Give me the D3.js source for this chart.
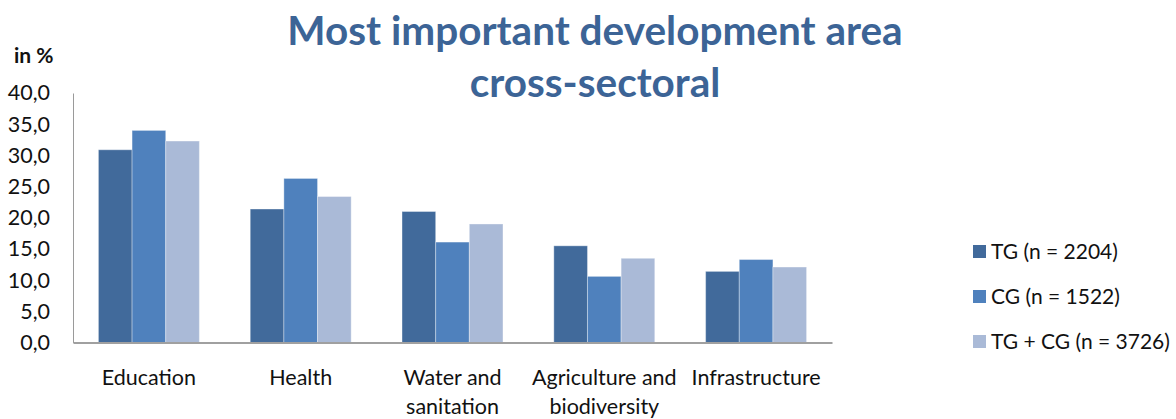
<!DOCTYPE html>
<html>
<head>
<meta charset="utf-8">
<script src="https://cdn.jsdelivr.net/npm/d3@7"></script>
<style>
  html, body { margin: 0; padding: 0; background: #fff; }
  svg { display: block; }
</style>
</head>
<body>
<svg id="chart" width="1176" height="419"></svg>
<script>
const categories = [["Education"], ["Health"], ["Water and", "sanitation"], ["Agriculture and", "biodiversity"], ["Infrastructure"]];
const seriesNames = ["TG (n = 2204)", "CG (n = 1522)", "TG + CG (n = 3726)"];
const tgValues = [30.9, 21.4, 21.0, 15.5, 11.4];
const cgValues = [34.0, 26.3, 16.1, 10.6, 13.3];
const allValues = [32.3, 23.4, 19.0, 13.5, 12.1];
const yTicks = [0, 5, 10, 15, 20, 25, 30, 35, 40];
const titleLines = ["Most important development area", "cross-sectoral"];
const yAxisTitle = "in %";

(function () {
const colors = ["#416a9b", "#4f81bd", "#aabad7"];
const font = "Lato, 'Open Sans', sans-serif";
const series = [tgValues, cgValues, allValues];

const svg = d3.select("#chart");
const pLeft = 73, pRight = 832, pTop = 93, pBottom = 342.5;

const catKeys = categories.map(c => c.join(" "));
const x0 = d3.scaleBand().domain(catKeys).range([pLeft, pRight]).paddingInner(0.335).paddingOuter(0.1675);
const x1 = d3.scaleBand().domain(d3.range(3)).range([0, x0.bandwidth()]);
const y = d3.scaleLinear().domain([0, 40]).range([pBottom, pTop]);

// Title
const title = svg.append("text").attr("text-anchor", "middle")
  .attr("font-family", font).attr("font-weight", "bold").attr("fill", "#3c6496")
  .attr("font-size", 40.5);
titleLines.forEach((t, i) => {
  title.append("tspan").attr("x", 595).attr("y", i === 0 ? 45 : 97).text(t);
});

// y-axis title
svg.append("text").attr("x", 14).attr("y", 63).attr("font-family", font)
  .attr("font-weight", "bold").attr("font-size", 21).attr("fill", "#111").text(yAxisTitle);

// Bars
const groups = svg.append("g").selectAll("g").data(catKeys).join("g")
  .attr("transform", d => `translate(${x0(d)},0)`);
groups.selectAll("rect").data((d, i) => series.map((s, j) => ({ j, v: s[i] }))).join("rect")
  .attr("x", d => x1(d.j))
  .attr("y", d => y(d.v))
  .attr("width", x1.bandwidth())
  .attr("height", d => y(0) - y(d.v))
  .attr("fill", d => colors[d.j])
  .attr("stroke", "rgba(255,255,255,0.35)")
  .attr("stroke-width", 1);

// Y axis
const yAxis = d3.axisLeft(y).tickValues(yTicks).tickSize(0).tickPadding(23)
  .tickFormat(d => d3.format(".1f")(d).replace(".", ","));
const gy = svg.append("g").attr("transform", `translate(${pLeft},0)`).call(yAxis);
gy.select(".domain").attr("stroke", "#9a9a9a").attr("stroke-width", 1);
gy.selectAll("text").attr("font-family", font).attr("font-size", 21.5).attr("fill", "#111");

// X axis
const xAxis = d3.axisBottom(x0).tickSize(0).tickFormat("");
const gx = svg.append("g").attr("transform", `translate(0,${pBottom})`).call(xAxis);
gx.select(".domain").attr("stroke", "#a0a0a0").attr("stroke-width", 2);
gx.selectAll(".tick").each(function(d, i) {
  const t = d3.select(this).append("text").attr("text-anchor", "middle")
    .attr("font-family", font).attr("font-size", 21.5).attr("fill", "#111");
  categories[i].forEach((line, k) => {
    t.append("tspan").attr("x", 0).attr("y", 42 + k * 29).text(line);
  });
});

// Legend
const legend = svg.append("g").selectAll("g").data(seriesNames).join("g")
  .attr("transform", (d, i) => `translate(973, ${251 + i * 45})`);
legend.append("rect").attr("x", 0).attr("y", -6).attr("width", 13).attr("height", 13)
  .attr("fill", (d, i) => colors[i]);
legend.append("text").attr("x", 18).attr("y", 8).attr("font-family", font)
  .attr("font-size", 21).attr("fill", "#111").text(d => d);
})();
</script>
</body>
</html>
